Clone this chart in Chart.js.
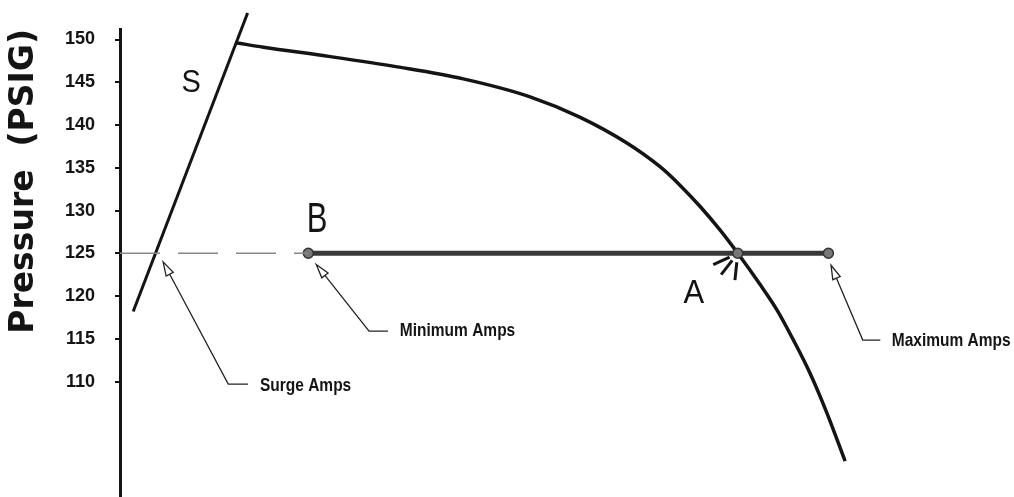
<!DOCTYPE html>
<html>
<head>
<meta charset="utf-8">
<script src="https://cdn.jsdelivr.net/npm/chart.js@4.4.1/dist/chart.umd.min.js"></script>
<style>
  html, body { margin: 0; padding: 0; background: #fff; }
  canvas { display: block; }
</style>
</head>
<body>
<canvas id="pumpChart" width="1014" height="497"></canvas>
<script>
// pressure ticks on the axis
var yTicks = [110, 115, 120, 125, 130, 135, 140, 145, 150];

// surge line S
var surgeFlow = [1.5, 14.5];
var surgePressure = [118.2, 153.1];

// pump curve
var pumpFlow = [13.3, 16.3, 23.9, 31.5, 39.0, 46.6, 52.3, 57.6, 61.4, 63.6, 65.9, 68.2, 70.2, 72.7, 74.7, 76.5, 78.4, 80.3, 82.4];
var pumpPressure = [149.6, 149.1, 148.0, 146.8, 145.4, 143.3, 140.9, 137.9, 135.1, 133.0, 130.5, 127.7, 125.0, 121.4, 118.3, 114.9, 111.0, 106.4, 100.7];

// operating line at 125 PSIG: B (min), A (on curve), max
var operatingFlow = [21.4, 70.2, 80.5];
var operatingPressure = [125, 125, 125];

// dashed set point line
var setpointFlow = [0, 21.4];
var setpointPressure = [125, 125];

function toPoints(xs, ys) {
    return xs.map(function (x, i) { return {x: x, y: ys[i]}; });
}

var ink = '#141414';
var sans = '"Liberation Sans", Arial, sans-serif';

// text squeezed a bit taller, like the narrow font of the original
function tallText(ctx, text, x, y, font, sy) {
    ctx.save();
    ctx.translate(x, y);
    ctx.scale(1, sy);
    ctx.font = font;
    ctx.fillText(text, 0, 0);
    ctx.restore();
}

// letters and callouts, placed in flow / pressure units
var notes = {
    id: 'notes',
    afterDatasetsDraw: function (chart) {
        var ctx = chart.ctx;
        var xs = chart.scales.x, ys = chart.scales.y;
        function px(v) { return xs.getPixelForValue(v); }
        function py(v) { return ys.getPixelForValue(v); }

        ctx.save();
        ctx.fillStyle = ink;
        ctx.textAlign = 'center';
        ctx.textBaseline = 'alphabetic';
        tallText(ctx, 'S', px(8.1), py(143.9), '29px ' + sans, 1.1);
        tallText(ctx, 'B', px(22.4), py(127.5), '31px ' + sans, 1.35);
        tallText(ctx, 'A', px(65.2), py(119.2), '31px ' + sans, 1.05);

        var callouts = [
            {text: 'Surge Amps', tip: [4.9, 124.0], elbow: [12.3, 109.7], end: [14.55, 109.7], label: [15.9, 108.9]},
            {text: 'Minimum Amps', tip: [22.3, 123.7], elbow: [28.3, 115.9], end: [30.45, 115.9], label: [31.8, 115.3]},
            {text: 'Maximum Amps', tip: [80.8, 123.6], elbow: [84.4, 114.85], end: [86.4, 114.85], label: [87.7, 114.15]}
        ];
        ctx.textAlign = 'left';
        ctx.lineWidth = 1.3;
        ctx.strokeStyle = '#222';
        callouts.forEach(function (c) {
            var tx = px(c.tip[0]), ty = py(c.tip[1]);
            var ex = px(c.elbow[0]), ey = py(c.elbow[1]);
            var dx = tx - ex, dy = ty - ey, len = Math.sqrt(dx * dx + dy * dy);
            var ux = dx / len, uy = dy / len;
            var bx = tx - ux * 14, by = ty - uy * 14;
            ctx.beginPath();
            ctx.moveTo(bx, by);
            ctx.lineTo(ex, ey);
            ctx.lineTo(px(c.end[0]), py(c.end[1]));
            ctx.stroke();
            ctx.beginPath();
            ctx.moveTo(tx, ty);
            ctx.lineTo(bx - uy * 4, by + ux * 4);
            ctx.lineTo(bx + uy * 4, by - ux * 4);
            ctx.closePath();
            ctx.fillStyle = '#fff';
            ctx.fill();
            ctx.stroke();
            ctx.fillStyle = ink;
            tallText(ctx, c.text, px(c.label[0]), py(c.label[1]), 'bold 15.5px ' + sans, 1.2);
        });

        // hatch marks at operating point A
        var ax = px(70.2), ay = py(125);
        ctx.lineWidth = 3;
        ctx.strokeStyle = ink;
        [155, 128, 96].forEach(function (deg) {
            var r = deg * Math.PI / 180;
            ctx.beginPath();
            ctx.moveTo(ax + Math.cos(r) * 9, ay + Math.sin(r) * 9);
            ctx.lineTo(ax + Math.cos(r) * 27, ay + Math.sin(r) * 27);
            ctx.stroke();
        });
        ctx.restore();
    }
};

var ctx = document.getElementById('pumpChart').getContext('2d');
var pumpChart = new Chart(ctx, {
    type: 'scatter',
    data: {
        datasets: [{
            label: 'Set point',
            data: toPoints(setpointFlow, setpointPressure),
            showLine: true,
            borderColor: '#888',
            borderWidth: 1.6,
            borderDash: [40, 18],
            pointRadius: 0
        }, {
            label: 'Operating range',
            data: toPoints(operatingFlow, operatingPressure),
            showLine: true,
            borderColor: '#383838',
            borderWidth: 5,
            pointRadius: 5,
            pointBackgroundColor: '#777',
            pointBorderColor: '#333',
            pointBorderWidth: 1.5
        }, {
            label: 'Pump curve',
            data: toPoints(pumpFlow, pumpPressure),
            showLine: true,
            borderColor: ink,
            borderWidth: 3.5,
            cubicInterpolationMode: 'monotone',
            pointRadius: 0
        }, {
            label: 'Surge line',
            data: toPoints(surgeFlow, surgePressure),
            showLine: true,
            borderColor: ink,
            borderWidth: 3,
            pointRadius: 0,
            clip: false
        }]
    },
    options: {
        responsive: false,
        animation: false,
        layout: {autoPadding: false, padding: {top: 29, right: 14, bottom: 0, left: 0}},
        plugins: {legend: {display: false}, tooltip: {enabled: false}},
        scales: {
            x: {type: 'linear', min: 0, max: 100, display: false},
            y: {
                type: 'linear',
                min: 96.5,
                max: 151.23,
                afterBuildTicks: function (scale) {
                    scale.ticks = yTicks.map(function (v) { return {value: v}; });
                },
                afterFit: function (scale) {
                    scale.width = 120;
                    scale.paddingTop = 0;
                    scale.paddingBottom = 0;
                },
                ticks: {
                    color: ink,
                    padding: 20,
                    font: {family: sans, size: 18, weight: 'bold'}
                },
                grid: {drawOnChartArea: false, drawTicks: true, tickLength: 5, color: ink, lineWidth: 2},
                border: {display: true, color: ink, width: 3},
                title: {
                    display: true,
                    text: 'Pressure  (PSIG)',
                    align: 'end',
                    color: ink,
                    font: {family: '"DejaVu Sans", sans-serif', size: 33, weight: 'bold'},
                    padding: {top: 5, bottom: 0}
                }
            }
        }
    },
    plugins: [notes]
});
</script>
</body>
</html>
